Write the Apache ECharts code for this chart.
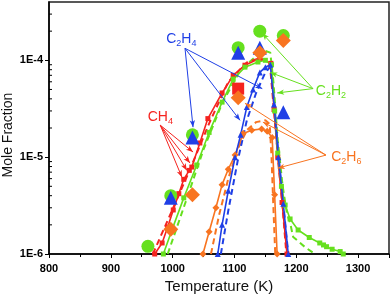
<!DOCTYPE html>
<html><head><meta charset="utf-8">
<script src="https://cdn.jsdelivr.net/npm/echarts@6/dist/echarts.min.js"></script>
<style>html,body{margin:0;padding:0;background:#fff}#c{width:392px;height:300px}</style>
</head><body><div id="c"></div>
<script>
// ---- data ----
const xTicks = [800, 900, 1000, 1100, 1200, 1300];
const yMajorTicks = [1e-6, 1e-5, 1e-4];
const yMinorTicks = [2e-6,3e-6,4e-6,5e-6,6e-6,7e-6,8e-6,9e-6,2e-5,3e-5,4e-5,5e-5,6e-5,7e-5,8e-5,9e-5,2e-4,3e-4];

// measured profiles (lines with small symbols)
const ch4T   = [971, 983, 992, 1001, 1010, 1018, 1027, 1031, 1044, 1057, 1080, 1098, 1117, 1141, 1159, 1164, 1170, 1177, 1185];
const ch4Val = [1.0e-6, 1.3e-6, 1.9e-6, 2.85e-6, 4.2e-6, 5.9e-6, 7.3e-6, 7.9e-6, 1.4e-5, 2.5e-5, 4.6e-5, 7.0e-5, 8.9e-5, 1.05e-4, 9.3e-5, 3.1e-5, 1.0e-5, 3.4e-6, 1.0e-6];
const c2h2T   = [985, 1000, 1018, 1039, 1059, 1080, 1098, 1117, 1138, 1150, 1160, 1165, 1170, 1176, 1182, 1190, 1203, 1221, 1238, 1244, 1249, 1258, 1271, 1276];
const c2h2Val = [1.0e-6, 1.85e-6, 3.8e-6, 8.3e-6, 1.8e-5, 3.7e-5, 6.4e-5, 8.5e-5, 9.6e-5, 1.0e-4, 9.0e-5, 3.0e-5, 1.1e-5, 5.0e-6, 3.2e-6, 2.3e-6, 1.77e-6, 1.48e-6, 1.3e-6, 1.24e-6, 1.19e-6, 1.12e-6, 1.06e-6, 1.0e-6];
const c2h4T   = [1073, 1080, 1090, 1101, 1110, 1120, 1130, 1141, 1150, 1158, 1164, 1171, 1179, 1187];
const c2h4Val = [1.0e-6, 2.0e-6, 4.5e-6, 1.0e-5, 1.7e-5, 3.3e-5, 5.0e-5, 7.5e-5, 8.5e-5, 9.0e-5, 3.5e-5, 1.0e-5, 3.3e-6, 1.0e-6];
const c2h6T   = [1049, 1059, 1070, 1080, 1090, 1101, 1114, 1128, 1144, 1153, 1161, 1165, 1169];
const c2h6Val = [1.0e-6, 1.7e-6, 3.0e-6, 5.2e-6, 7.5e-6, 1.05e-5, 1.75e-5, 1.9e-5, 1.95e-5, 1.85e-5, 1.6e-5, 4.1e-6, 1.0e-6];

// model profiles (dashed)
const ch4ModT   = [968, 1000, 1030, 1060, 1090, 1120, 1140, 1157, 1164, 1171, 1178, 1184];
const ch4ModVal = [1e-6, 2.9e-6, 8e-6, 2.3e-5, 6e-5, 9.5e-5, 1.05e-4, 9.6e-5, 3e-5, 9e-6, 3e-6, 1e-6];
const c2h2ModT   = [992, 1020, 1050, 1080, 1110, 1135, 1150, 1158, 1163, 1170, 1178, 1185, 1190, 1195, 1214, 1230];
const c2h2ModVal = [1e-6, 3.3e-6, 1.2e-5, 3.6e-5, 8e-5, 1.1e-4, 1.25e-4, 1.2e-4, 6e-5, 1.5e-5, 5e-6, 2.6e-6, 2.1e-6, 1.5e-6, 1.18e-6, 1e-6];
const c2h4ModT   = [1078, 1090, 1105, 1120, 1135, 1150, 1158, 1164, 1171, 1179, 1187];
const c2h4ModVal = [1e-6, 2.8e-6, 9e-6, 2.4e-5, 4.6e-5, 7.5e-5, 8.5e-5, 4e-5, 1.1e-5, 3.3e-6, 1e-6];
const c2h6ModT   = [1062, 1075, 1090, 1105, 1120, 1135, 1150, 1157, 1160, 1163, 1166];
const c2h6ModVal = [1e-6, 2.5e-6, 6e-6, 1.2e-5, 1.9e-5, 2.3e-5, 2.4e-5, 2.2e-5, 1e-5, 3e-6, 1e-6];

// other experiment (large symbols)
const bigT      = [960, 997, 1032, 1106, 1141, 1179];
const ch4Big    = [null, null, null, 5.1e-5, null, null];
const c2h2Big   = [1.2e-6, 4.0e-6, 1.7e-5, 1.35e-4, 2.0e-4, 1.8e-4];
const c2h4Big   = [null, 3.8e-6, 1.6e-5, 1.2e-4, 1.35e-4, 2.9e-5];
const c2h6Big   = [null, 1.8e-6, 4.1e-6, 4.1e-5, 1.2e-4, 1.6e-4];

// annotations: label anchor, arrow origin, arrow targets
const ch4Label  = [980, 2.6e-5];
const ch4ArrowFrom = [980, 2.14e-5];
const ch4ArrowTo = [[1033, 1.13e-5], [1028, 8.7e-6], [1023, 7.3e-6], [1015, 6.2e-6]];
const c2h4Label = [1014, 1.66e-4];
const c2h4ArrowFrom = [1020, 1.33e-4];
const c2h4ArrowTo = [[1033, 2.04e-5], [1109, 2.4e-5], [1145, 5.1e-5]];
const c2h2Label = [1256, 4.8e-5];
const c2h2ArrowFrom = [1227, 5.1e-5];
const c2h2ArrowTo = [[1145, 1.9e-4], [1158, 7.5e-5], [1169, 4.6e-5]];
const c2h6Label = [1281, 1.0e-5];
const c2h6ArrowFrom = [1248, 1.05e-5];
const c2h6ArrowTo = [[1117, 3.6e-5], [1146, 2.3e-5], [1170, 7.7e-6]];

// ---- styles ----
const RED = '#f5231f', GREEN = '#66e01e', BLUE = '#1f3fe6', ORANGE = '#f87420';
const FONT = 'Liberation Sans, Arial, sans-serif';

const zip = (xs, ys) => xs.map((x, i) => [x, ys[i]]);
const zipBig = (xs, ys) => xs.map((x, i) => ys[i] == null ? null : [x, ys[i]]).filter(d => d);

function measLine(T, V, color, symbol, size) {
  return { type: 'line', data: zip(T, V), symbol, symbolSize: size, showSymbol: true,
    lineStyle: { color, width: 1.6 }, itemStyle: { color }, z: 3, animation: false, silent: true };
}
function modLine(T, V, color) {
  return { type: 'line', data: zip(T, V), symbol: 'none',
    lineStyle: { color, width: 2, type: [6, 4] }, z: 2, animation: false, silent: true };
}
function bigScatter(T, V, color, symbol, size, z) {
  return { type: 'scatter', data: zipBig(T, V), symbol, symbolSize: size,
    itemStyle: { color, opacity: 1 }, z, animation: false, silent: true };
}
function annot(labelPos, fmt, color, from, tos) {
  return { type: 'scatter', data: [labelPos], symbolSize: 1, itemStyle: { color: 'rgba(0,0,0,0)' }, z: 10,
    animation: false, silent: true,
    label: { show: true, position: 'inside', formatter: fmt, color, opacity: 1,
      rich: { a: { fontSize: 14, lineHeight: 18, color, fontFamily: FONT },
              b: { fontSize: 9, lineHeight: 8, color, verticalAlign: 'bottom', fontFamily: FONT } } },
    markLine: { silent: true, animation: false, symbol: ['none', 'arrow'], symbolSize: [4, 7],
      lineStyle: { color, width: 1, type: 'solid' }, label: { show: false },
      data: tos.map(t => [{ coord: from }, { coord: t }]) } };
}

const series = [
  modLine(c2h6ModT, c2h6ModVal, ORANGE),
  modLine(c2h2ModT, c2h2ModVal, GREEN),
  modLine(c2h4ModT, c2h4ModVal, BLUE),
  modLine(ch4ModT, ch4ModVal, RED),
  measLine(c2h6T, c2h6Val, ORANGE, 'diamond', 7),
  measLine(ch4T, ch4Val, RED, 'rect', 5),
  measLine(c2h2T, c2h2Val, GREEN, 'rect', 5),
  measLine(c2h4T, c2h4Val, BLUE, 'triangle', 6),
  bigScatter(bigT, c2h2Big, GREEN, 'circle', 13, 5),
  bigScatter(bigT, ch4Big, RED, 'rect', 12, 6),
  bigScatter(bigT, c2h4Big, BLUE, 'triangle', 14, 7),
  bigScatter(bigT, c2h6Big, ORANGE, 'diamond', 15, 8),
  annot(ch4Label, '{a|CH}{b|4}', RED, ch4ArrowFrom, ch4ArrowTo),
  annot(c2h4Label, '{a|C}{b|2}{a|H}{b|4}', BLUE, c2h4ArrowFrom, c2h4ArrowTo),
  annot(c2h2Label, '{a|C}{b|2}{a|H}{b|2}', GREEN, c2h2ArrowFrom, c2h2ArrowTo),
  annot(c2h6Label, '{a|C}{b|2}{a|H}{b|6}', ORANGE, c2h6ArrowFrom, c2h6ArrowTo),
  { type: 'custom', data: yMinorTicks.map(v => [800, v]), z: 20, silent: true, animation: false,
    renderItem: (params, api) => {
      const p = api.coord([api.value(0), api.value(1)]);
      return { type: 'line', shape: { x1: p[0], y1: p[1], x2: p[0] + 3, y2: p[1] },
        style: { stroke: '#000', lineWidth: 1 } };
    } }
];

const chart = echarts.init(document.getElementById('c'), null, { renderer: 'canvas' });
chart.setOption({
  animation: false,
  backgroundColor: '#fff',
  grid: { left: 49, right: 3, top: 2, bottom: 46, containLabel: false, outerBoundsMode: 'none',
    show: true, borderColor: '#222', borderWidth: 1.5, backgroundColor: 'transparent' },
  xAxis: {
    type: 'value', min: 800, max: 1350, interval: 100,
    name: 'Temperature (K)', nameLocation: 'middle', nameGap: 25, nameMoveOverlap: false,
    nameTextStyle: { fontSize: 15, color: '#111', fontFamily: FONT },
    axisLine: { lineStyle: { color: '#000', width: 1.5 } },
    axisTick: { show: true, length: 4, lineStyle: { color: '#000' } },
    minorTick: { show: true, splitNumber: 2, length: 3, lineStyle: { color: '#000' } },
    splitLine: { show: false }, minorSplitLine: { show: false },
    axisLabel: { fontSize: 11, fontWeight: 'bold', color: '#000', fontFamily: FONT, margin: 9,
      customValues: xTicks, formatter: v => String(v) }
  },
  yAxis: {
    type: 'log', logBase: 10, min: 1e-6, max: 4e-4,
    name: 'Mole Fraction', nameLocation: 'middle', nameGap: 34, nameMoveOverlap: false,
    nameTextStyle: { fontSize: 14, color: '#111', fontFamily: FONT, padding: [0, 14, 0, 0] },
    axisLine: { lineStyle: { color: '#000', width: 1.5 } },
    axisTick: { show: true, length: 4, lineStyle: { color: '#000' } },
    splitLine: { show: false },
    axisLabel: { fontSize: 11, fontWeight: 'bold', color: '#000', fontFamily: FONT, margin: 6,
      showMaxLabel: false,
      formatter: v => (yMajorTicks.some(t => Math.abs(Math.log10(v) - Math.log10(t)) < 1e-6)) ? '1E' + Math.round(Math.log10(v)) : '' }
  },
  series
});
</script></body></html>
